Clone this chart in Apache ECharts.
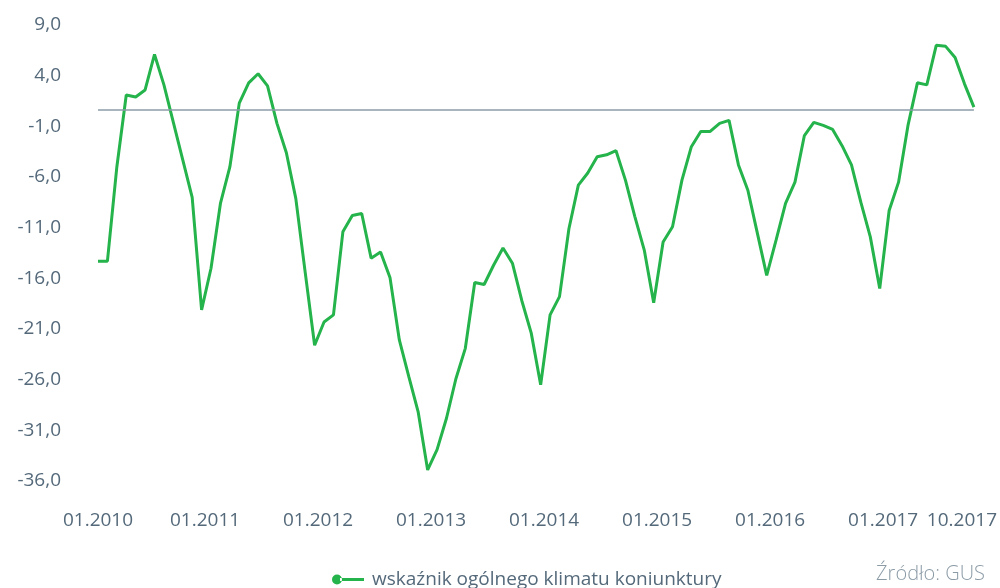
<!DOCTYPE html>
<html>
<head>
<meta charset="utf-8">
<script src="https://cdn.jsdelivr.net/npm/echarts@6/dist/echarts.min.js"></script>
<style>
  html, body { margin: 0; padding: 0; background: #fff; }
  #chart { width: 1000px; height: 588px; }
</style>
</head>
<body>
<div id="chart"></div>
<script>
// miesiące 01.2010 - 10.2017
const months = [];
for (let y = 2010; y <= 2017; y++) {
  for (let m = 1; m <= 12; m++) {
    if (y === 2017 && m > 10) break;
    months.push((m < 10 ? '0' + m : '' + m) + '.' + y);
  }
}

// wskaźnik ogólnego klimatu koniunktury
const climate = [
  -14.9, -14.9, -5.6, 1.5, 1.3, 2.0, 5.5, 2.5, -1.2, -4.9, -8.6, -19.7,
  -15.6, -9.2, -5.6, 0.7, 2.7, 3.6, 2.4, -1.3, -4.2, -8.7, -16.0, -23.2,
  -20.9, -20.2, -12.0, -10.4, -10.2, -14.6, -14.0, -16.5, -22.7, -26.3, -29.8, -35.5,
  -33.5, -30.4, -26.5, -23.5, -17.0, -17.2, -15.3, -13.6, -15.1, -18.8, -22.0, -27.1,
  -20.2, -18.4, -11.7, -7.4, -6.2, -4.6, -4.4, -4.0, -6.9, -10.5, -13.8, -19.0,
  -13.0, -11.5, -6.9, -3.6, -2.1, -2.1, -1.3, -1.0, -5.4, -7.9, -12.1, -16.3,
  -12.8, -9.2, -7.1, -2.5, -1.2, -1.5, -1.9, -3.5, -5.4, -9.1, -12.5, -17.6,
  -9.9, -7.1, -1.5, 2.7, 2.5, 6.4, 6.3, 5.2, 2.6, 0.3
];

// podpisy osi X
const tickLabels = ['01.2010', '01.2011', '01.2012', '01.2013', '01.2014',
  '01.2015', '01.2016', '01.2017', '10.2017'];

const seriesName = 'wskaźnik ogólnego klimatu koniunktury';
const GREEN = '#25b34b';
const TEXT = '#54697a';

const chart = echarts.init(document.getElementById('chart'));

chart.setOption({
  animation: false,
  grid: { left: 98, right: 23, top: 19, bottom: 113 },
  legend: {
    left: 327,
    top: 565,
    itemWidth: 32,
    itemHeight: 10,
    icon: 'path://M0,5 a5,5 0 1,0 10,0 a5,5 0 1,0 -10,0 Z M8,3.4 H32 V6.6 H8 Z',
    textStyle: {
      color: TEXT,
      fontFamily: 'Open Sans',
      fontSize: 19,
      padding: [0, 0, 0, 3]
    },
    data: [seriesName]
  },
  graphic: [{
    type: 'text',
    right: 15,
    top: 564,
    style: {
      text: 'Źródło: GUS',
      fill: '#8b9ba6',
      font: '300 20px "Open Sans"'
    }
  }],
  xAxis: {
    type: 'category',
    data: months,
    boundaryGap: false,
    axisLine: { show: false },
    axisTick: { show: false },
    axisLabel: {
      interval: 0,
      margin: 36,
      color: TEXT,
      fontFamily: 'Open Sans',
      fontSize: 19,
      formatter: function (val, idx) {
        if (tickLabels.indexOf(val) < 0) return '';
        if (idx === 0) return val;
        if (idx === months.length - 1) return '{e|' + val + '}';
        return '{m|' + val + '}';
      },
      rich: {
        m: { color: TEXT, fontFamily: 'Open Sans', fontSize: 19, padding: [0, 12, 0, 0] },
        e: { color: TEXT, fontFamily: 'Open Sans', fontSize: 19, padding: [0, 24, 0, 0] }
      }
    }
  },
  yAxis: {
    type: 'value',
    min: -36,
    max: 9,
    interval: 5,
    axisLine: { show: false },
    axisTick: { show: false },
    splitLine: { show: false },
    axisLabel: {
      margin: 37,
      color: TEXT,
      fontFamily: 'Open Sans',
      fontSize: 19,
      verticalAlign: 'top',
      lineHeight: 12,
      formatter: (v) => v.toFixed(1).replace('.', ',')
    }
  },
  series: [{
    name: seriesName,
    type: 'line',
    data: climate,
    symbol: 'none',
    itemStyle: { color: GREEN },
    lineStyle: { color: GREEN, width: 3 },
    markLine: {
      silent: true,
      symbol: ['none', 'none'],
      label: { show: false },
      lineStyle: { color: '#8b9ca8', width: 1.5, type: 'solid' },
      data: [{ yAxis: 0 }]
    },
    z: 3
  }]
});
</script>
</body>
</html>
